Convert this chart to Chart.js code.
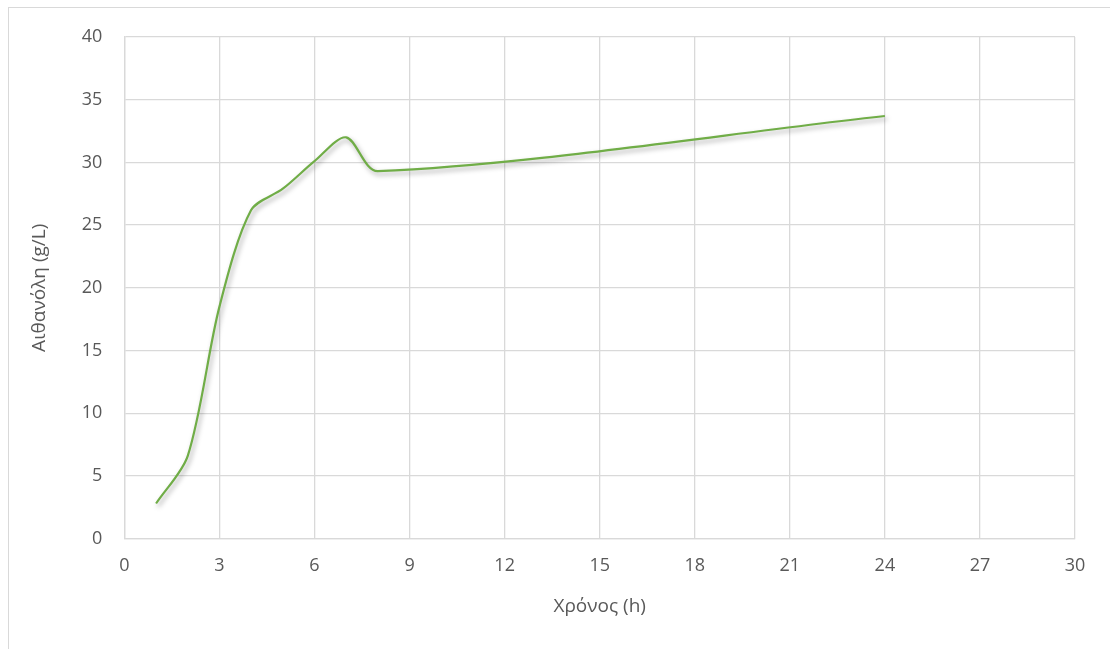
<!DOCTYPE html>
<html lang="el">
<head>
  <meta charset="UTF-8">
  <title>Αιθανόλη</title>
  <script src="https://cdn.jsdelivr.net/npm/chart.js"></script>
  <style>
    body {
      margin: 0;
      padding: 0;
      background: #ffffff;
      overflow: hidden;
    }
    .frame {
      position: absolute;
      left: 8px;
      top: 7px;
      width: 1200px;
      height: 700px;
      border: 1px solid #d9d9d9;
    }
    .wrap {
      position: absolute;
      left: 0;
      top: 0;
      width: 1110px;
      height: 649px;
    }
  </style>
</head>
<body>
  <div class="frame"></div>
  <div class="wrap">
    <canvas id="grafico"></canvas>
  </div>

  <script>
    // time (h) and ethanol (g/L)
    const tempos = [1, 2, 3, 4, 5, 6, 7, 8, 24];
    const etanol = [2.8, 6.6, 18.5, 26.2, 27.9, 30.1, 32.0, 29.3, 33.7];
    const ticksX = [0, 3, 6, 9, 12, 15, 18, 21, 24, 27, 30];
    const ticksY = [0, 5, 10, 15, 20, 25, 30, 35, 40];

    const cinza = '#595959';
    const fonte = "'Open Sans', 'DejaVu Sans', sans-serif";

    // soft drop shadow under the line, like the original
    const sombra = {
      id: 'sombra',
      beforeDatasetDraw(chart) {
        const ctx = chart.ctx;
        ctx.save();
        ctx.shadowColor = 'rgba(0, 0, 0, 0.35)';
        ctx.shadowBlur = 5;
        ctx.shadowOffsetX = 2;
        ctx.shadowOffsetY = 3;
      },
      afterDatasetDraw(chart) {
        chart.ctx.restore();
      }
    };

    const ctx = document.getElementById('grafico').getContext('2d');
    new Chart(ctx, {
      type: 'line',
      data: {
        datasets: [{
          label: 'Αιθανόλη',
          data: tempos.map((t, i) => ({ x: t, y: etanol[i] })),
          borderColor: '#70AD47',
          borderWidth: 2.2,
          pointRadius: 0,
          tension: 0.3,
          fill: false
        }]
      },
      options: {
        responsive: true,
        maintainAspectRatio: false,
        animation: false,
        layout: {
          padding: { left: 28, right: 35, top: 37, bottom: 31 }
        },
        plugins: {
          legend: { display: false },
          tooltip: { enabled: false }
        },
        scales: {
          x: {
            type: 'linear',
            min: 0,
            max: 30,
            afterBuildTicks: axis => { axis.ticks = ticksX.map(v => ({ value: v })); },
            grid: { color: '#d9d9d9', lineWidth: 1.3, drawTicks: false },
            border: { color: '#d9d9d9', width: 1.3 },
            ticks: { color: cinza, font: { family: fonte, size: 18 }, padding: 16, maxRotation: 0 },
            title: {
              display: true,
              text: 'Χρόνος (h)',
              color: cinza,
              font: { family: fonte, size: 19 },
              padding: { top: 3, bottom: 0 }
            }
          },
          y: {
            min: 0,
            max: 40,
            afterBuildTicks: axis => { axis.ticks = ticksY.map(v => ({ value: v })); },
            grid: { color: '#d9d9d9', lineWidth: 1.3, drawTicks: false },
            border: { color: '#d9d9d9', width: 1.3 },
            ticks: { color: cinza, font: { family: fonte, size: 18 }, padding: 22 },
            title: {
              display: true,
              text: 'Αιθανόλη (g/L)',
              color: cinza,
              font: { family: fonte, size: 19 },
              padding: { top: 0, bottom: 9 }
            }
          }
        }
      },
      plugins: [sombra]
    });
  </script>
</body>
</html>
